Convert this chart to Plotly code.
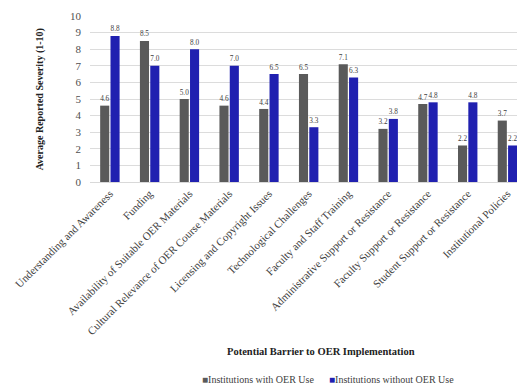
import plotly.graph_objects as go

categories = [
    "Understanding and Awareness",
    "Funding",
    "Availability of Suitable OER Materials",
    "Cultural Relevance of OER Course Materials",
    "Licensing and Copyright Issues",
    "Technological Challenges",
    "Faculty and Staff Training",
    "Administrative Support or Resistance",
    "Faculty Support or Resistance",
    "Student Support or Resistance",
    "Institutional Policies",
]
with_oer = [4.6, 8.5, 5.0, 4.6, 4.4, 6.5, 7.1, 3.2, 4.7, 2.2, 3.7]
without_oer = [8.8, 7.0, 8.0, 7.0, 6.5, 3.3, 6.3, 3.8, 4.8, 4.8, 2.2]
series_names = ["Institutions with OER Use", "Institutions without OER Use"]
yticks = list(range(0, 11))

FONT = "Liberation Serif, DejaVu Serif, serif"
GRAY = "#5a5a5a"
BLUE = "#2020b0"
TXT = "#404040"

fig = go.Figure()
for vals, name, col in [(with_oer, series_names[0], GRAY), (without_oer, series_names[1], BLUE)]:
    fig.add_trace(go.Bar(
        x=categories, y=vals, name=name,
        marker=dict(color=col, line=dict(width=0)),
        text=[f"{v:.1f}" for v in vals], textposition="outside",
        textfont=dict(family=FONT, size=10, color=TXT),
        cliponaxis=False, showlegend=False,
    ))

legend_items = [(series_names[0], GRAY, 0.2576), (series_names[1], BLUE, 0.555)]
legend_annots = [
    dict(text=f"<span style='color:{c}'>■</span>{n}", xref="paper", yref="paper",
         x=x, y=-1.19, xanchor="left", yanchor="middle", showarrow=False,
         font=dict(family=FONT, size=10, color=TXT))
    for n, c, x in legend_items
]

fig.update_layout(
    width=517, height=385,
    margin=dict(l=90, r=0, t=16, b=203),
    paper_bgcolor="white", plot_bgcolor="white",
    barmode="group", bargap=0.48, bargroupgap=0.12,
    font=dict(family=FONT, color=TXT, size=10),
    xaxis=dict(
        range=[-0.5, 10.24],
        tickangle=-45, tickfont=dict(family=FONT, size=11, color=TXT),
        showgrid=False, showline=True, linecolor="#d9d9d9", linewidth=1,
        ticks="",
    ),
    yaxis=dict(
        range=[0, 10], tickvals=yticks,
        tickfont=dict(family=FONT, size=11, color="#505050"),
        showgrid=True, gridcolor="#dcdcdc", gridwidth=1,
        zeroline=False, showline=False, ticks="", ticklabelstandoff=8,
    ),
    annotations=[
        dict(text="<b>Average Reported Severity (1-10)</b>", textangle=-90,
             xref="paper", yref="paper", x=-0.135, y=0.5, showarrow=False,
             font=dict(family=FONT, size=10, color="#222222")),
        dict(text="<b>Potential Barrier to OER Implementation</b>",
             xref="paper", yref="paper", x=0.54, y=-1.02, xanchor="center", yanchor="middle",
             showarrow=False, font=dict(family=FONT, size=10.5, color="#222222")),
    ] + legend_annots,
)

fig.write_html("out.html")
